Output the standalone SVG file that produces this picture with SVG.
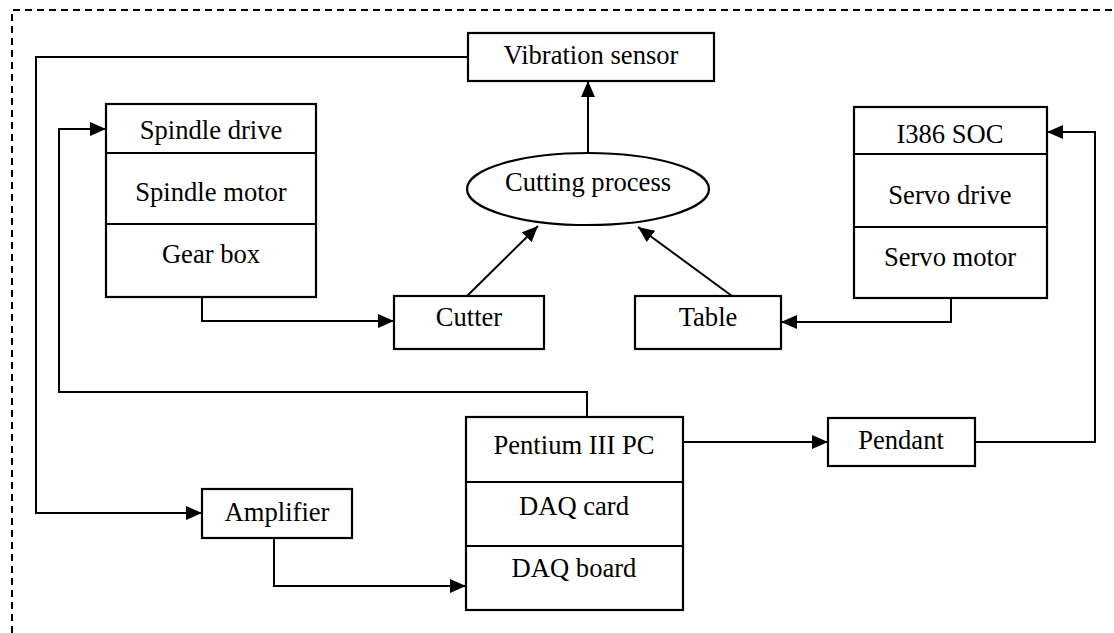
<svg xmlns="http://www.w3.org/2000/svg" width="1114" height="633" viewBox="0 0 1114 633">
<style>
.box{fill:#fff;stroke:#000;stroke-width:2.2}
.div{stroke:#000;stroke-width:2}
.t{font-family:"Liberation Serif","Times New Roman",serif;font-size:26.6px;fill:#000;text-anchor:middle}
.c{fill:none;stroke:#000;stroke-width:2}
</style>
<defs>
<marker id="ah" markerUnits="userSpaceOnUse" markerWidth="16" markerHeight="14" viewBox="0 0 16 14" refX="16" refY="7" orient="auto">
<path d="M0,0 L16,7 L0,14 Z" fill="#000"/>
</marker>
</defs>
<rect width="1114" height="633" fill="#fff"/>
<path d="M12,633 L12,10 L1114,10" fill="none" stroke="#000" stroke-width="2" stroke-dasharray="7,5"/>
<g id="connectors">
<path class="c" d="M468,57 L36,57 L36,513 L202,513" marker-end="url(#ah)"/>
<path class="c" d="M587,417 L587,392 L59,392 L59,129 L106,129" marker-end="url(#ah)"/>
<path class="c" d="M202,297 L202,321 L394,321" marker-end="url(#ah)"/>
<path class="c" d="M951,298 L951,322 L781,322" marker-end="url(#ah)"/>
<path class="c" d="M975,442 L1095,442 L1095,132 L1047,132" marker-end="url(#ah)"/>
<path class="c" d="M683,442 L828,442" marker-end="url(#ah)"/>
<path class="c" d="M274,538 L274,586 L466,586" marker-end="url(#ah)"/>
<path class="c" d="M588,153 L588,81" marker-end="url(#ah)"/>
<path class="c" d="M467,296 L538,226" marker-end="url(#ah)"/>
<path class="c" d="M732,296 L638,227" marker-end="url(#ah)"/>
</g>
<g id="vibration-sensor">
<rect class="box" x="468" y="33" width="246" height="48"/>
<text class="t" x="591" y="64">Vibration sensor</text>
</g>
<g id="cutting-process">
<ellipse class="box" cx="588" cy="189" rx="121" ry="36"/>
<text class="t" x="588" y="191">Cutting process</text>
</g>
<g id="spindle">
<rect class="box" x="106" y="104" width="210" height="193"/>
<line class="div" x1="106" y1="153" x2="316" y2="153"/>
<line class="div" x1="106" y1="224" x2="316" y2="224"/>
<text class="t" x="211" y="139">Spindle drive</text>
<text class="t" x="211" y="201">Spindle motor</text>
<text class="t" x="211" y="263">Gear box</text>
</g>
<g id="servo">
<rect class="box" x="854" y="107" width="193" height="191"/>
<line class="div" x1="854" y1="154" x2="1047" y2="154"/>
<line class="div" x1="854" y1="227" x2="1047" y2="227"/>
<text class="t" x="950" y="143">I386 SOC</text>
<text class="t" x="950" y="204">Servo drive</text>
<text class="t" x="950" y="266">Servo motor</text>
</g>
<g id="cutter">
<rect class="box" x="394" y="296" width="150" height="53"/>
<text class="t" x="469" y="326">Cutter</text>
</g>
<g id="table">
<rect class="box" x="635" y="296" width="146" height="53"/>
<text class="t" x="708" y="326">Table</text>
</g>
<g id="pendant">
<rect class="box" x="828" y="418" width="147" height="48"/>
<text class="t" x="901" y="449">Pendant</text>
</g>
<g id="amplifier">
<rect class="box" x="202" y="489" width="150" height="49"/>
<text class="t" x="277" y="521">Amplifier</text>
</g>
<g id="pc">
<rect class="box" x="466" y="417" width="217" height="193"/>
<line class="div" x1="466" y1="482" x2="683" y2="482"/>
<line class="div" x1="466" y1="546" x2="683" y2="546"/>
<text class="t" x="574" y="454">Pentium III PC</text>
<text class="t" x="574" y="515">DAQ card</text>
<text class="t" x="574" y="577">DAQ board</text>
</g>
</svg>
